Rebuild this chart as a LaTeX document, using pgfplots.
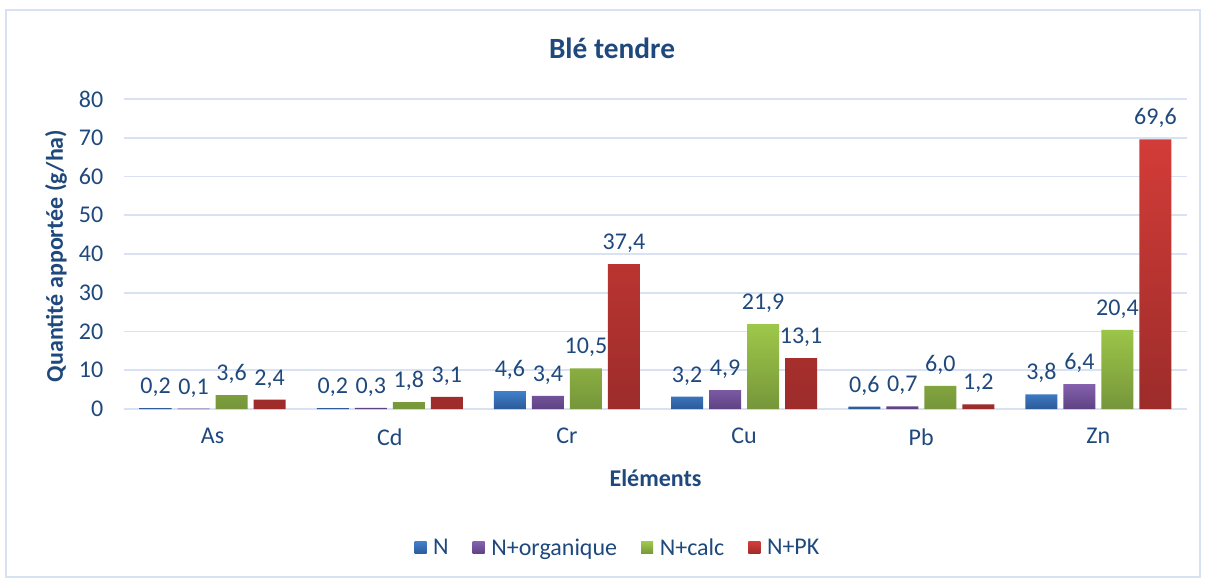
\documentclass[border=0pt]{standalone}
\usepackage{fontspec}
\setmainfont{Carlito}
\usepackage{pgfplots}
\pgfplotsset{compat=1.18}
\definecolor{txt}{HTML}{1F497D}
\definecolor{gridc}{HTML}{D9E2F3}
\definecolor{framec}{HTML}{D6E2F2}
\definecolor{bTop}{HTML}{3F80CC}\definecolor{bBot}{HTML}{2C5A97}
\definecolor{pTop}{HTML}{8461AD}\definecolor{pBot}{HTML}{5E4283}
\definecolor{gTop}{HTML}{9EC84A}\definecolor{gBot}{HTML}{76963A}
\definecolor{rTop}{HTML}{D33C38}\definecolor{rBot}{HTML}{9C2C2A}
\begin{document}
\begin{tikzpicture}
\fill[white] (0pt,0pt) rectangle (904.5pt,433.5pt);
\draw[framec, line width=1.2pt] (4.5pt,0.75pt) rectangle (900pt,426pt);
\node[font=\fontsize{22}{26}\selectfont\bfseries, text=txt] at (459pt,397.5pt) {Blé tendre};
\begin{axis}[
  at={(93pt,126.75pt)}, anchor=south west,
  scale only axis, width=797.25pt, height=232.5pt,
  xmin=-0.5, xmax=5.5, ymin=0, ymax=80,
  ytick={0,10,...,80},
  xtick={0,1,2,3,4,5},
  xticklabels={As,Cd,Cr,Cu,Pb,Zn},
  major tick length=0pt,
  axis line style={draw=none},
  ymajorgrids, grid style={gridc, line width=1.2pt},
  /pgf/number format/assume math mode=true,
  tick label style={font=\fontsize{18}{21}\selectfont, text=txt},
  yticklabel style={xshift=-12pt},
  xticklabel style={yshift=-11pt},
  xlabel={Eléments},
  ylabel={Quantité apportée (g/ha)},
  label style={font=\fontsize{18}{21}\selectfont\bfseries, text=txt},
  xlabel style={at={(axis description cs:0.5,-0.223)}, anchor=center},
  ylabel style={at={(axis description cs:-0.0640,0.494)}, anchor=center, rotate=0},
  ybar=4.5pt, bar width=24pt,
  nodes near coords={\pgfmathprintnumber[fixed,fixed zerofill,precision=1,use comma]{\pgfplotspointmeta}},
  every node near coord/.append style={font=\fontsize{18}{21}\selectfont, text=txt, yshift=5pt},
  legend style={draw=none, fill=none, at={(axis description cs:0.465,-0.448)}, anchor=center,
    font=\fontsize{18}{21}\selectfont, text=txt,
    /tikz/every odd column/.append style={column sep=3pt},
    /tikz/every even column/.append style={column sep=16pt}},
  legend columns=4,
  legend image code/.code={\path[#1] (0pt,-4.5pt) rectangle (9pt,4.5pt);},
]
\addplot[draw=none, top color=bTop, bottom color=bBot] coordinates {(0,0.2) (1,0.2) (2,4.6) (3,3.2) (4,0.6) (5,3.8)};
\addplot[draw=none, top color=pTop, bottom color=pBot] coordinates {(0,0.1) (1,0.3) (2,3.4) (3,4.9) (4,0.7) (5,6.4)};
\addplot[draw=none, top color=gTop, bottom color=gBot] coordinates {(0,3.6) (1,1.8) (2,10.5) (3,21.9) (4,6.0) (5,20.4)};
\addplot[draw=none, top color=rTop, bottom color=rBot] coordinates {(0,2.4) (1,3.1) (2,37.4) (3,13.1) (4,1.2) (5,69.6)};
\legend{N,N+organique,N+calc,N+PK}
\end{axis}
\end{tikzpicture}
\end{document}
